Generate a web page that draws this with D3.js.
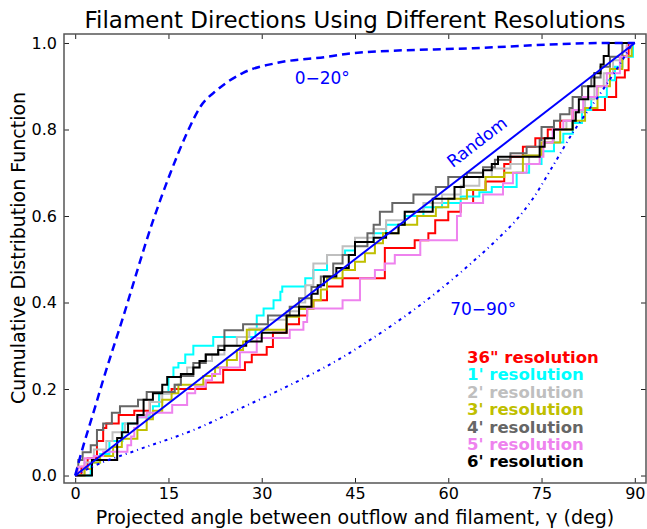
<!DOCTYPE html>
<html><head><meta charset="utf-8">
<script src="https://cdn.jsdelivr.net/npm/d3@7"></script>
<style>body{margin:0;background:#fff} text{font-family:"DejaVu Sans",sans-serif}</style>
</head><body><svg id="c" width="647" height="529"></svg>
<script>
// ---- data ----
const xTicks = [0, 15, 30, 45, 60, 75, 90];
const yTicks = [0.0, 0.2, 0.4, 0.6, 0.8, 1.0];
const seriesNames = ['36" resolution', "1' resolution", "2' resolution", "3' resolution", "4' resolution", "5' resolution", "6' resolution"];
// cumulative distribution steps: [angle (deg), cumulative fraction]
const res36 = [[0,0],[1,0.02],[2,0.04],[3.5,0.08],[4.5,0.11],[5,0.12],[7,0.14],[9.5,0.15],[12,0.17],[13.5,0.19],[15.5,0.20],[21,0.215],[23.8,0.244],[27.3,0.262],[28.4,0.279],[30.8,0.297],[31.8,0.33],[34,0.35],[36,0.37],[37.3,0.386],[38.3,0.405],[40.5,0.437],[43,0.456],[49.8,0.526],[54.6,0.544],[56.8,0.56],[57.9,0.59],[60,0.61],[62,0.63],[64,0.66],[66,0.68],[69,0.72],[70,0.737],[72,0.76],[74,0.78],[76,0.80],[78,0.82],[80,0.845],[85.2,0.875],[87,0.92],[88.4,0.937],[89,1.0],[90,1.0]];
const res1 = [[0,0],[2.5,0.03],[4,0.05],[5.5,0.08],[7.6,0.12],[10,0.135],[12.5,0.16],[13.5,0.19],[15,0.228],[15.8,0.25],[16.6,0.26],[17.7,0.28],[19,0.30],[22.2,0.32],[29,0.337],[29.2,0.37],[30.3,0.386],[31.9,0.405],[33,0.425],[33.3,0.437],[37,0.456],[38.3,0.475],[40.5,0.51],[43.4,0.52],[45,0.54],[48,0.56],[50,0.58],[53,0.60],[56,0.62],[59,0.63],[62,0.645],[65,0.655],[67,0.667],[71,0.70],[73,0.72],[75,0.75],[77,0.77],[78.5,0.79],[80,0.815],[81.5,0.845],[83,0.875],[85.5,0.914],[86.8,0.945],[88,0.968],[89.7,1.0],[90,1.0]];
const res2 = [[0,0],[1.5,0.03],[3,0.06],[5,0.08],[6,0.10],[8,0.12],[10,0.14],[12,0.17],[14,0.19],[16,0.21],[17,0.23],[18,0.25],[20,0.265],[22,0.28],[24,0.30],[26,0.32],[28,0.34],[31,0.36],[34,0.38],[36,0.40],[37,0.44],[38.3,0.49],[40.5,0.51],[43,0.53],[45,0.55],[48,0.57],[50,0.59],[53,0.61],[56,0.63],[59,0.65],[62,0.67],[65,0.69],[67,0.71],[70,0.72],[73,0.74],[75,0.77],[77,0.80],[79,0.82],[80.5,0.84],[82,0.87],[83.5,0.90],[85,0.93],[86.5,0.96],[88,0.98],[88.7,1.0],[90,1.0]];
const res3 = [[0,0],[1.5,0.015],[2.7,0.03],[4,0.045],[6.1,0.066],[7.5,0.085],[10,0.105],[11.5,0.13],[12.5,0.15],[14,0.175],[15.5,0.19],[16.6,0.21],[20.6,0.23],[22.5,0.25],[24.4,0.267],[26,0.29],[27,0.31],[27.6,0.337],[34,0.367],[36,0.385],[38.3,0.405],[39.5,0.43],[40.5,0.456],[43,0.475],[45,0.494],[46.6,0.514],[48.2,0.537],[49.5,0.56],[52,0.58],[55,0.60],[58,0.62],[60,0.64],[63,0.66],[66,0.69],[69,0.70],[72,0.74],[75,0.77],[78,0.80],[80,0.82],[82,0.85],[84,0.90],[86,0.94],[88,0.97],[89.5,1.0],[90,1.0]];
const res4 = [[0,0],[0.3,0.018],[0.5,0.036],[1.2,0.054],[2.5,0.07],[3.5,0.105],[4.5,0.12],[5.9,0.145],[7.2,0.16],[10.1,0.175],[11.5,0.193],[16,0.21],[17,0.23],[19,0.26],[21,0.28],[23,0.30],[24,0.336],[27,0.35],[31,0.37],[34.5,0.39],[36,0.41],[38,0.436],[39.5,0.46],[41.5,0.49],[43,0.51],[45,0.53],[47,0.56],[48,0.58],[49,0.61],[51,0.63],[54.4,0.65],[58,0.667],[60,0.69],[63,0.70],[65.6,0.713],[67.5,0.73],[70,0.745],[72.6,0.76],[74.7,0.776],[75,0.806],[77,0.82],[78,0.835],[79.5,0.85],[80,0.875],[81.5,0.90],[83,0.92],[84.5,0.945],[86,0.968],[88,1.0],[90,1.0]];
const res5 = [[0,0],[0.5,0.02],[1.5,0.04],[3,0.045],[4.5,0.055],[8.4,0.07],[9,0.09],[9.5,0.11],[10,0.135],[11.5,0.145],[15.6,0.163],[18,0.19],[19.3,0.205],[21,0.22],[22,0.235],[23.3,0.25],[26.5,0.285],[29.2,0.318],[34.5,0.337],[36.7,0.355],[37.3,0.386],[43,0.405],[45.8,0.456],[48.2,0.475],[49.8,0.49],[51.4,0.51],[55.5,0.544],[61.4,0.60],[62,0.63],[65.6,0.65],[68.8,0.676],[70.4,0.70],[72.6,0.72],[74.7,0.737],[75.3,0.77],[76.8,0.80],[78.5,0.82],[80,0.845],[81.7,0.875],[83.9,0.90],[85.5,0.93],[87.6,0.968],[88.7,0.99],[89.3,1.0],[90,1.0]];
const res6 = [[0,0],[2.7,0.036],[6.75,0.087],[7.5,0.10],[8.5,0.12],[10,0.14],[11,0.175],[12.5,0.19],[14,0.21],[14.8,0.228],[17,0.235],[19,0.25],[20,0.265],[21,0.28],[23,0.29],[24,0.30],[27.5,0.31],[30,0.33],[34,0.37],[36,0.39],[38,0.42],[39,0.44],[40,0.46],[42,0.48],[44,0.51],[45,0.54],[48,0.55],[50,0.56],[52,0.58],[53,0.61],[57.5,0.64],[61,0.667],[62.5,0.69],[65.6,0.706],[67,0.72],[68,0.737],[74.7,0.76],[75.5,0.78],[77,0.80],[80,0.82],[80.5,0.84],[81,0.87],[82.5,0.90],[83.5,0.93],[84.5,0.95],[85,0.97],[85.8,1.0],[90,1.0]];
// model curves
const randomCurve = [[0,0],[90,1]];
const model0to20 = [[0,0],[0.8,0.043],[3.2,0.158],[4.5,0.221],[7.7,0.366],[12.4,0.584],[15.3,0.699],[18.2,0.799],[20.1,0.852],[22.8,0.891],[27,0.931],[32.5,0.954],[40.5,0.968],[45,0.977],[64,0.988],[85.5,1.0],[90,1.0]];
const model70to90 = [[0,0],[2.7,0.02],[10,0.059],[19,0.105],[27,0.158],[36.2,0.221],[42.6,0.27],[47.9,0.318],[53.4,0.372],[58.7,0.43],[64,0.495],[67.8,0.545],[71,0.592],[73.6,0.64],[76.8,0.715],[80,0.792],[84.4,0.882],[87.1,0.94],[89.7,1.0]];

const seriesData = [res36, res1, res2, res3, res4, res5, res6];
const seriesColors = ["#ff0000", "#00ffff", "#bfbfbf", "#bfbf00", "#666666", "#ee82ee", "#000000"];

// ---- drawing ----
const svg = d3.select("#c");
const L = 64, R = 646, T = 34, B = 483;
const x = d3.scaleLinear().domain([-1.8, 91.8]).range([L, R]);
const y = d3.scaleLinear().domain([-0.0173, 1.0208]).range([B, T]);

svg.append("defs").append("clipPath").attr("id", "clip")
  .append("rect").attr("x", L).attr("y", T).attr("width", R - L).attr("height", B - T);

const g = svg.append("g").attr("clip-path", "url(#clip)");
const stepLine = d3.line().x(d => x(d[0])).y(d => y(d[1])).curve(d3.curveStepAfter);
const smooth = d3.line().x(d => x(d[0])).y(d => y(d[1])).curve(d3.curveMonotoneX);

seriesData.forEach((s, i) => {
  g.append("path").attr("d", stepLine(s)).attr("fill", "none")
    .attr("stroke", seriesColors[i]).attr("stroke-width", 2);
});

g.append("path").attr("d", smooth(randomCurve)).attr("fill", "none").attr("stroke", "#0000ff").attr("stroke-width", 2);
g.append("path").attr("d", smooth(model0to20)).attr("fill", "none").attr("stroke", "#0000ff").attr("stroke-width", 2.5).attr("stroke-dasharray", "8,5");
g.append("path").attr("d", smooth(model70to90)).attr("fill", "none").attr("stroke", "#0000ff").attr("stroke-width", 2).attr("stroke-dasharray", "3,4,1,4");

// axes
function styleAxis(sel) {
  sel.select(".domain").remove();
  sel.selectAll(".tick line").attr("stroke", "#222").attr("stroke-width", 1);
  sel.selectAll(".tick text").attr("fill", "#000").style("font-size", "16px").style("font-family", '"DejaVu Sans", sans-serif');
}
svg.append("g").attr("transform", `translate(0,${B})`)
  .call(d3.axisBottom(x).tickValues(xTicks).tickSize(-5).tickPadding(5).tickFormat(d3.format("d"))).call(styleAxis);
svg.append("g").attr("transform", `translate(0,${T})`)
  .call(d3.axisTop(x).tickValues(xTicks).tickSize(-5).tickFormat("")).call(styleAxis);
svg.append("g").attr("transform", `translate(${L},0)`)
  .call(d3.axisLeft(y).tickValues(yTicks).tickSize(-5).tickPadding(7).tickFormat(d3.format(".1f"))).call(styleAxis);
svg.append("g").attr("transform", `translate(${R},0)`)
  .call(d3.axisRight(y).tickValues(yTicks).tickSize(-5).tickFormat("")).call(styleAxis);

svg.append("rect").attr("x", L).attr("y", T).attr("width", R - L).attr("height", B - T)
  .attr("fill", "none").attr("stroke", "#555").attr("stroke-width", 1.5);

// annotations
svg.append("text").attr("x", x(35.3)).attr("y", y(0.905)).attr("fill", "#0000ff").style("font-size", "17px").text("0\u221220\u00b0");
svg.append("text").attr("x", x(60.3)).attr("y", y(0.372)).attr("fill", "#0000ff").style("font-size", "17px").text("70\u221290\u00b0");
const ang = -Math.atan2(y(0) - y(1), x(90) - x(0)) * 180 / Math.PI;
svg.append("text").attr("transform", `translate(${x(65.2)},${y(0.76)}) rotate(${ang})`)
  .attr("text-anchor", "middle").attr("fill", "#0000ff").style("font-size", "17px").text("Random");

// legend
seriesNames.forEach((n, i) => {
  svg.append("text").attr("x", 467).attr("y", 363 + i * 17.4).attr("fill", seriesColors[i])
    .style("font-size", "16.5px").style("font-weight", "bold").text(n);
});

// titles
svg.append("text").attr("x", (L + R) / 2).attr("y", 28).attr("text-anchor", "middle").style("font-size", "23px").text("Filament Directions Using Different Resolutions");
svg.append("text").attr("x", (L + R) / 2).attr("y", 524).attr("text-anchor", "middle").style("font-size", "19px").text("Projected angle between outflow and filament, \u03b3 (deg)");
svg.append("text").attr("transform", `translate(25,248) rotate(-90)`).attr("text-anchor", "middle").style("font-size", "19px").text("Cumulative Distribution Function");
</script></body></html>
